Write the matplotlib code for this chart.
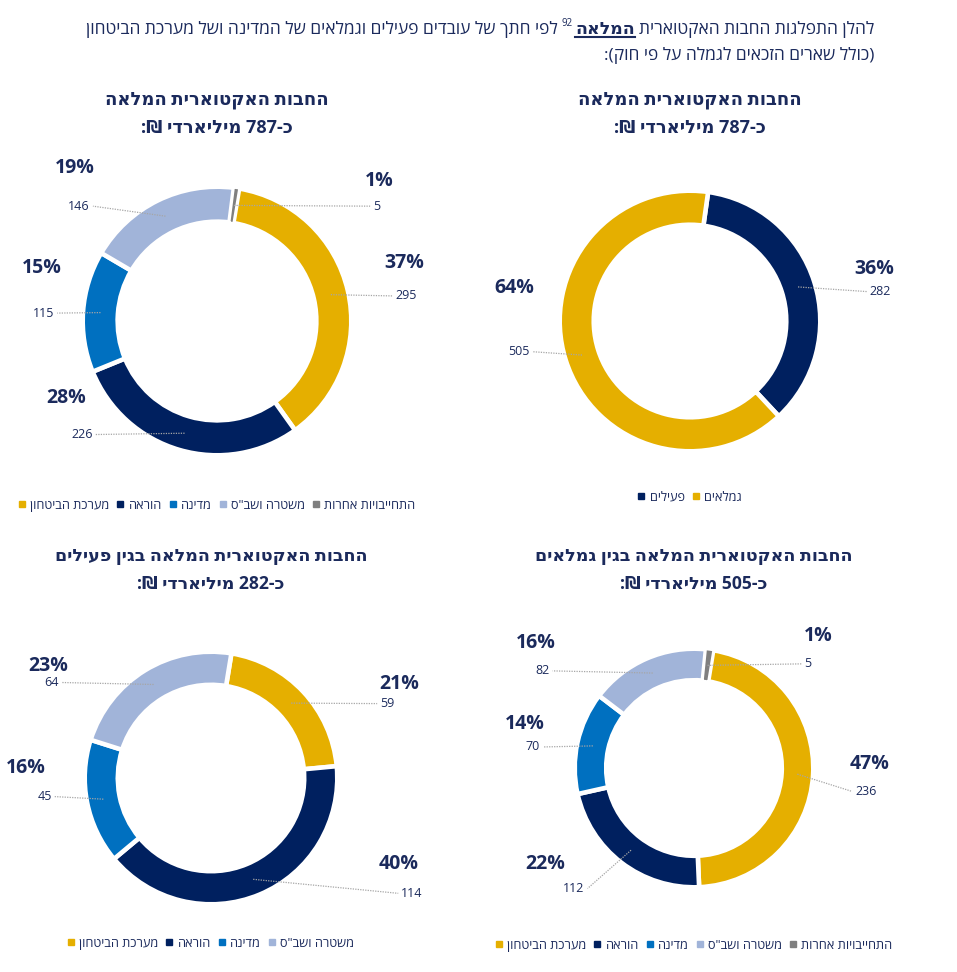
import re
import numpy as np
import matplotlib
matplotlib.use('Agg')
import matplotlib.pyplot as plt
from matplotlib.lines import Line2D

W, H = 957, 972

# ---- data ----
sector_cats = ['מערכת הביטחון', 'הוראה', 'מדינה', 'משטרה ושב"ס', 'התחייבויות אחרות']
sector_vals = [295, 226, 115, 146, 5]
sector_pct = [37, 28, 15, 19, 1]

status_cats = ['פעילים', 'גמלאים']
status_vals = [282, 505]
status_pct = [36, 64]

active_cats = ['מערכת הביטחון', 'הוראה', 'מדינה', 'משטרה ושב"ס']
active_vals = [59, 114, 45, 64]
active_pct = [21, 40, 16, 23]

retired_cats = ['מערכת הביטחון', 'הוראה', 'מדינה', 'משטרה ושב"ס', 'התחייבויות אחרות']
retired_vals = [236, 112, 70, 82, 5]
retired_pct = [47, 22, 14, 16, 1]

title_full = ['החבות האקטוארית המלאה', 'כ-787 מיליארדי ₪:']
title_active = ['החבות האקטוארית המלאה בגין פעילים', 'כ-282 מיליארדי ₪:']
title_retired = ['החבות האקטוארית המלאה בגין גמלאים', 'כ-505 מיליארדי ₪:']

intro_parts = ['להלן התפלגות החבות האקטוארית', 'המלאה', '92',
               'לפי חתך של עובדים פעילים וגמלאים של המדינה ושל מערכת הביטחון']
intro_line2 = '(כולל שארים הזכאים לגמלה על פי חוק):'

colors = {
    'מערכת הביטחון': '#E5AF00',
    'הוראה': '#00205F',
    'מדינה': '#0070C0',
    'משטרה ושב"ס': '#A1B4D9',
    'התחייבויות אחרות': '#7F7F7F',
    'פעילים': '#00205F',
    'גמלאים': '#E5AF00',
}

DARK = '#1B2A5C'
FONT = ['Open Sans', 'DejaVu Sans']


def vis(s):
    # crude visual ordering for right-to-left text
    toks = re.findall(r'[0-9]+|.', s)
    mirror = {'(': ')', ')': '('}
    return ''.join(mirror.get(t, t) for t in reversed(toks))


plt.rcParams['font.family'] = FONT

fig = plt.figure(figsize=(W / 100, H / 100), dpi=100)
ax = fig.add_axes([0, 0, 1, 1])

# layout: centre (px from top-left), radius, start offset (deg clockwise from 12),
# value-line ends and percent label positions in units of R
panels = [
    dict(cats=sector_cats, vals=sector_vals, pct=sector_pct, title=title_full,
         c=(217, 321), R=132, start=9.5, ty=100, ly=505, tfs=13,
         ends=[(1.33, 0.19), (-0.92, -0.86), (-1.21, 0.06), (-0.94, 0.87), (1.16, 0.87)],
         ppos=[(1.42, 0.44), (-1.14, -0.58), (-1.33, 0.40), (-1.08, 1.16), (1.23, 1.06)]),
    dict(cats=status_cats, vals=status_vals, pct=status_pct, title=title_full,
         c=(690, 321), R=128, start=8, ty=100, ly=497, tfs=13,
         ends=[(1.38, 0.23), (-1.23, -0.24)],
         ppos=[(1.44, 0.41), (-1.37, 0.26)]),
    dict(cats=active_cats, vals=active_vals, pct=active_pct, title=title_active,
         c=(211, 778), R=124, start=9.3, ty=556, ly=943, tfs=12.6,
         ends=[(1.34, 0.60), (1.51, -0.93), (-1.26, -0.15), (-1.20, 0.77)],
         ppos=[(1.52, 0.76), (1.51, -0.69), (-1.49, 0.08), (-1.31, 0.90)]),
    dict(cats=retired_cats, vals=retired_vals, pct=retired_pct, title=title_retired,
         c=(694, 768), R=117, start=9.3, ty=556, ly=945, tfs=12.6,
         ends=[(1.35, -0.20), (-0.91, -1.03), (-1.29, 0.18), (-1.21, 0.83), (0.92, 0.89)],
         ppos=[(1.50, 0.03), (-1.27, -0.82), (-1.45, 0.38), (-1.35, 1.07), (1.06, 1.13)]),
]

lw = 3.3
edge = lw * 1.39 / 2  # half the white separator width, px
for p in panels:
    cx, cy = p['c'][0], H - p['c'][1]
    R = p['R']
    wedges, _ = ax.pie(p['vals'], colors=[colors[k] for k in p['cats']],
                       startangle=90 - p['start'], counterclock=False,
                       radius=R + edge, center=(cx, cy),
                       wedgeprops=dict(width=0.23 * R + 2 * edge, edgecolor='white',
                                       linewidth=lw))
    total = sum(p['vals'])
    for w, v in zip(wedges, p['vals']):
        if v / total < 0.02:  # keep the thin slices visible
            w.set_linewidth(1.4)
            w.set_zorder(2)
    rmid = R * (1 - 0.115)
    for w, v, pc, e, pp in zip(wedges, p['vals'], p['pct'], p['ends'], p['ppos']):
        a = np.deg2rad((w.theta1 + w.theta2) / 2)
        axx, ayy = cx + rmid * np.cos(a), cy + rmid * np.sin(a)
        ex, ey = cx + e[0] * R, cy + e[1] * R
        ax.plot([axx, ex], [ayy, ey], ls=(0, (1, 1)), color='#A6A6A6', lw=0.9, zorder=3)
        side = 1 if e[0] > 0 else -1
        ax.text(ex + side * 3, ey, str(v), ha='left' if side > 0 else 'right',
                va='center', fontsize=9, color=DARK)
        ax.text(cx + pp[0] * R, cy + pp[1] * R, f'{pc}%', ha='center', va='center',
                fontsize=14, fontweight='bold', color=DARK)
    ax.text(cx, H - p['ty'], vis(p['title'][0]), ha='center', va='center',
            fontsize=p['tfs'], fontweight='bold', color=DARK)
    ax.text(cx, H - p['ty'] - 28, vis(p['title'][1]), ha='center', va='center',
            fontsize=p['tfs'], fontweight='bold', color=DARK)
    handles = [Line2D([], [], ls='none', marker='s', markersize=4.5,
                      markerfacecolor=colors[k], markeredgecolor=colors[k]) for k in p['cats']]
    fig.legend(handles, [vis(k) for k in p['cats']], loc='center',
               bbox_to_anchor=(cx / W, (H - p['ly']) / H), ncol=len(p['cats']),
               frameon=False, fontsize=9.2, handlelength=0.5, handletextpad=0.4,
               columnspacing=0.6, labelcolor=DARK)

ax.set_xlim(0, W)
ax.set_ylim(0, H)
ax.set_aspect('equal')
ax.axis('off')

# intro text, placed piece by piece from the right
fig.canvas.draw()
renderer = fig.canvas.get_renderer()
x = 874
y1 = H - 29
styles = [dict(fontsize=12.5), dict(fontsize=12.5, fontweight='bold'),
          dict(fontsize=7), dict(fontsize=12.5)]
gaps = [4, 2, 4, 0]
for part, st, g in zip(intro_parts, styles, gaps):
    yy = y1 + 5 if part.isdigit() else y1
    t = ax.text(x, yy, vis(part), ha='right', va='center', color=DARK, **st)
    bb = t.get_window_extent(renderer)
    if st.get('fontweight') == 'bold':
        ax.plot([bb.x0, bb.x1], [y1 - 8, y1 - 8], color=DARK, lw=1.5)
    x = bb.x0 - g
ax.text(874, H - 55, vis(intro_line2), ha='right', va='center', color=DARK, fontsize=12.5)

fig.savefig('out.png', dpi=100)
